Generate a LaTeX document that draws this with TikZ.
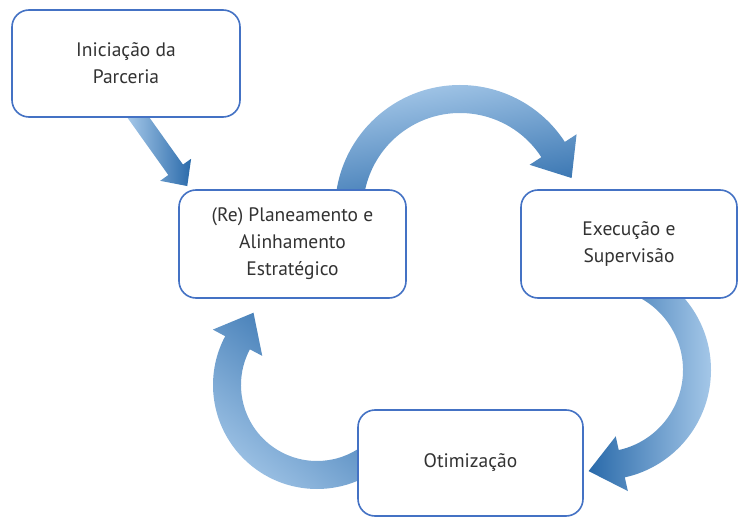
\documentclass[tikz,border=0pt]{standalone}
\usepackage{fontspec}
\setmainfont{PT Sans}
\usepackage{xcolor}
\definecolor{claro}{RGB}{164,199,232}
\definecolor{medio}{RGB}{91,155,213}
\definecolor{escuro}{RGB}{42,106,170}
\definecolor{borda}{RGB}{68,114,196}
\definecolor{texto}{RGB}{50,50,50}
\usetikzlibrary{calc,backgrounds}
% curved block arrow, clockwise: centre, radius, from angle, to angle
\newcommand{\RoundArrow}[5][]{%
\shade[#1] ($(#2)+(#4:#3+14)$) arc[start angle=#4,end angle=#5,radius=#3+14]
  -- ($(#2)+(#5:#3+28)$) -- ($(#2)+(#5:#3)+(#5-90:34)$) -- ($(#2)+(#5:#3-28)$)
  -- ($(#2)+(#5:#3-14)$) arc[start angle=#5,end angle=#4,radius=#3-14] -- cycle;}

\begin{document}
\begin{tikzpicture}[x=1pt,y=1pt,line join=round]
	\tikzstyle{etapa}=[draw=borda,line width=1.6pt,rounded corners=17pt,fill=white,align=center,text=texto,inner sep=0pt,font=\fontsize{19.5}{27}\selectfont];
%<--------------------------------------------------------------------------->%
	\useasboundingbox (0,0) rectangle (738,517);
	\node[etapa,minimum width=228,minimum height=107] (init) at (126,453.5) {Iniciação da\\Parceria};
	\node[etapa,minimum width=227,minimum height=108] (plan) at (292.5,273) {(Re) Planeamento e\\Alinhamento\\Estratégico};
	\node[etapa,minimum width=216,minimum height=108] (exec) at (629,273) {Execução e\\Supervisão};
	\node[etapa,minimum width=225,minimum height=106] (otim) at (470.5,54) {Otimização};
	\coordinate (M1) at (460,307);
	\coordinate (M2) at (601,147);
	\coordinate (M3) at (317,132);
	%% arrows behind the boxes
	\begin{scope}[on background layer]
		\RoundArrow[top color=claro,middle color=medio,bottom color=escuro,shading angle=10]{M1}{111}{180}{33};
		\RoundArrow[left color=escuro,middle color=medio,right color=claro]{M2}{96}{90}{-77.5};
		\RoundArrow[top color=escuro,middle color=medio,bottom color=claro,shading angle=-40]{M3}{90}{-45}{-208};
	\end{scope}
	\begin{scope}[on background layer,shift={($(init.south)+(9,5)$)},rotate=-54.5]
		\shade[left color=claro,right color=escuro] (0,-9) -- (70,-9) -- (70,-19) -- (90,0) -- (70,19) -- (70,9) -- (0,9) -- cycle;
	\end{scope}
\end{tikzpicture}
\end{document}
